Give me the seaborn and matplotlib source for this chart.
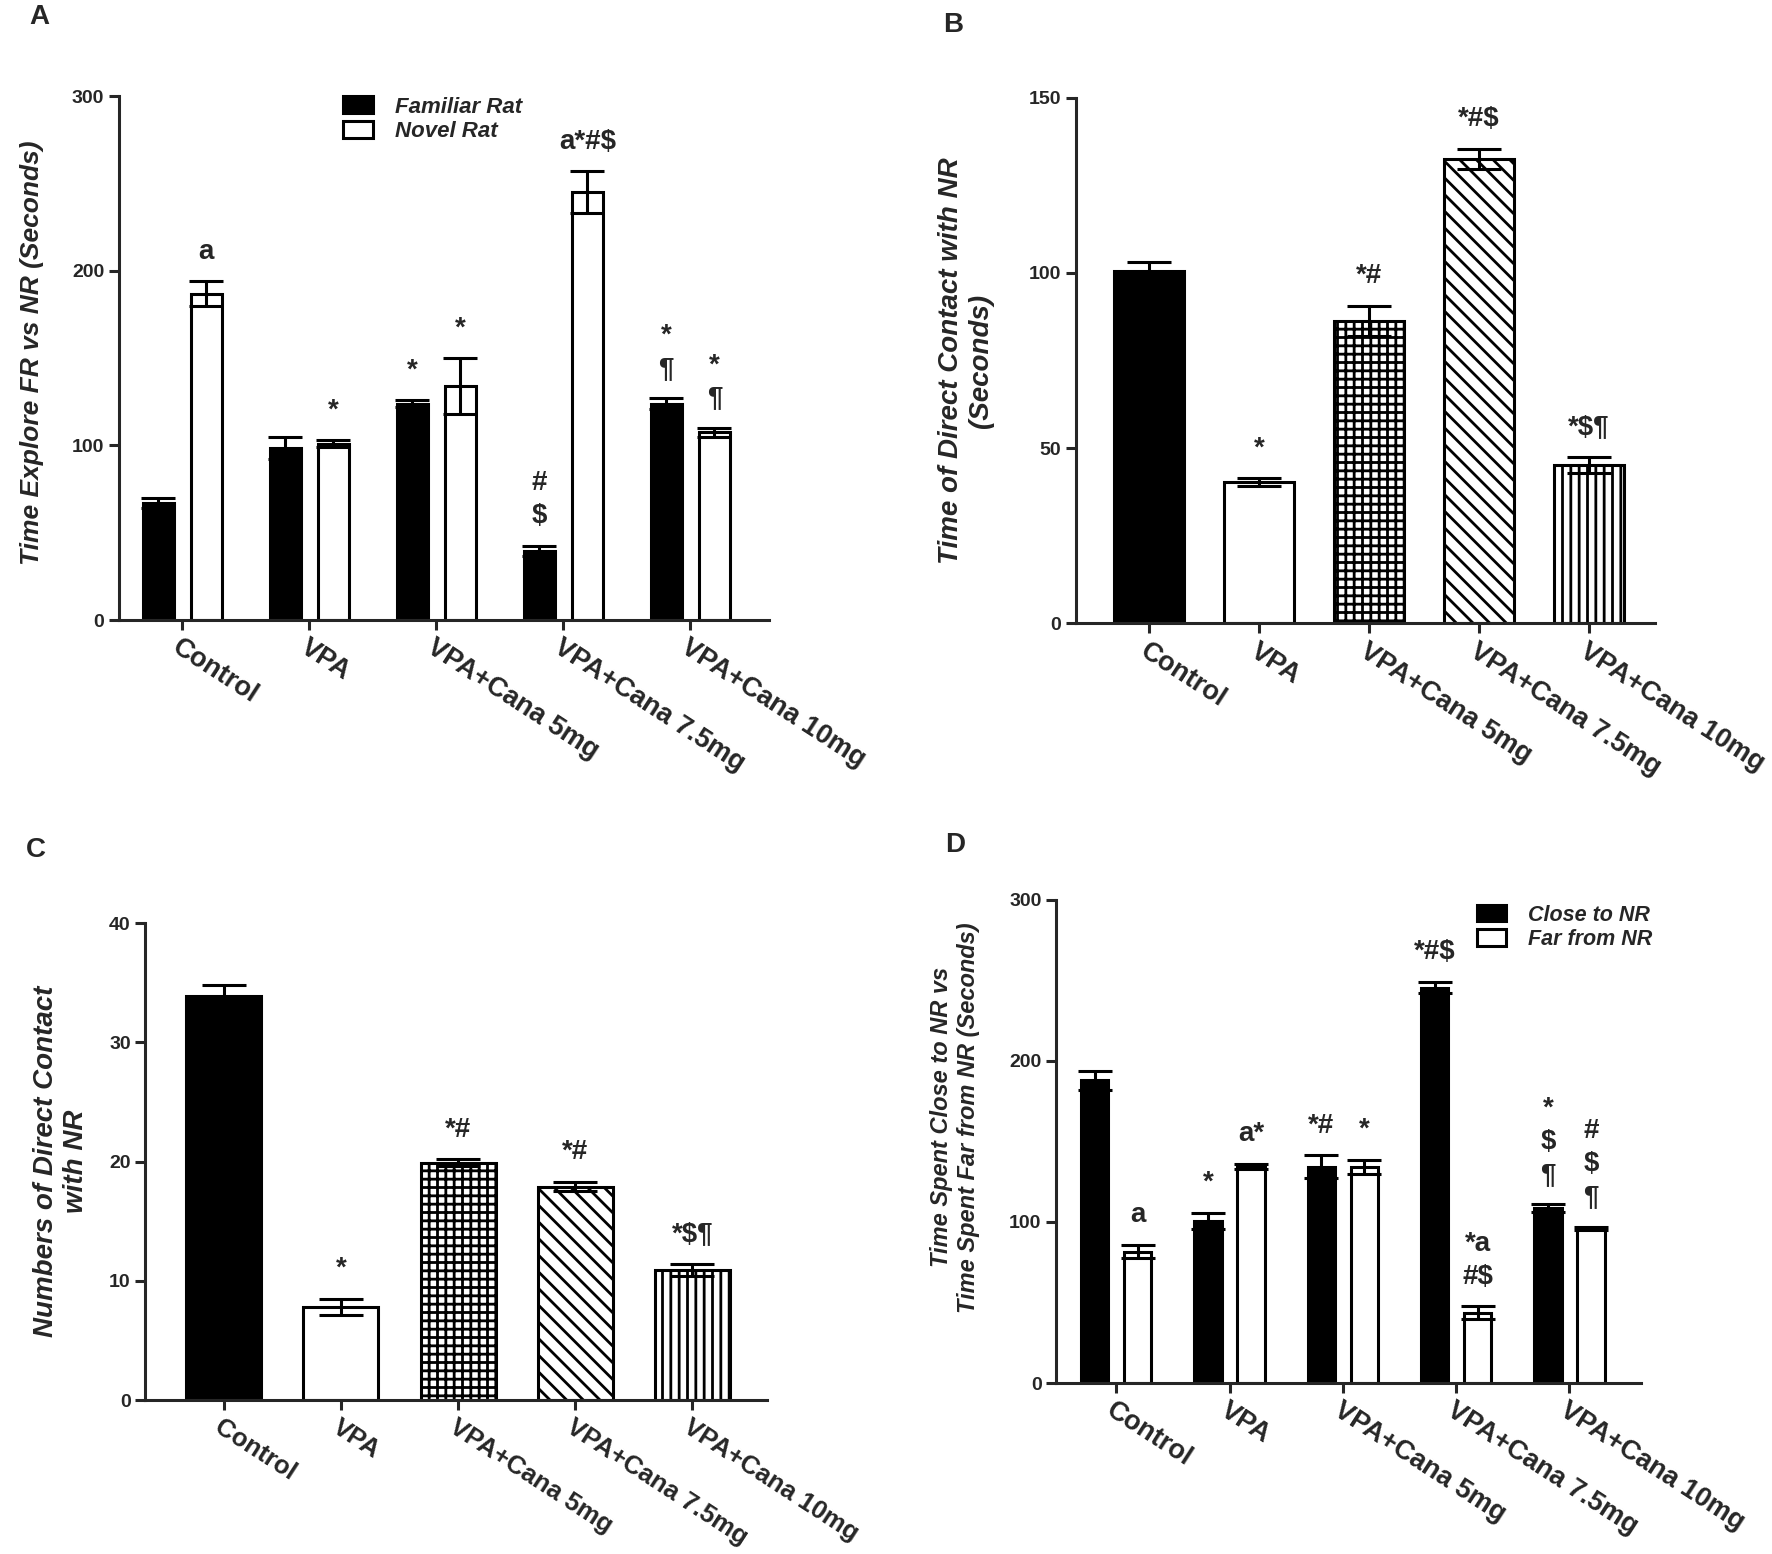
import numpy as np
import pandas as pd
import matplotlib
matplotlib.use('Agg')
import matplotlib.pyplot as plt
from matplotlib.patches import Patch
import seaborn as sns

# groups shared by all panels
groups = ['Control', 'VPA', 'VPA+Cana 5mg', 'VPA+Cana 7.5mg', 'VPA+Cana 10mg']

# Panel A - time exploring familiar vs novel rat
a_series = ['Familiar Rat', 'Novel Rat']
a_familiar = [67, 98.5, 124, 39.5, 124]
a_familiar_err = [3, 6.5, 2, 3, 3]
a_novel = [187, 101, 134, 245, 107.5]
a_novel_err = [7, 2, 16, 12, 2.5]
a_familiar_sig = ['', '', '*', '#\n$', '*\n¶']
a_novel_sig = ['a', '*', '*', 'a*#$', '*\n¶']

# Panel B - time of direct contact
b_values = [100.5, 40.3, 86.3, 132.6, 45.1]
b_err = [2.5, 1.2, 4.3, 2.8, 2.3]
b_sig = ['', '*', '*#', '*#$', '*$¶']

# Panel C - numbers of direct contact
c_values = [33.9, 7.8, 19.9, 17.9, 10.9]
c_err = [0.9, 0.7, 0.3, 0.4, 0.5]
c_sig = ['', '*', '*#', '*#', '*$¶']

# Panel D - time close to / far from NR
d_series = ['Close to NR', 'Far from NR']
d_close = [188, 100.7, 134.3, 245.5, 108.4]
d_close_err = [6, 5, 7, 3.5, 2.5]
d_far = [81.6, 134.6, 134.3, 43.7, 96.1]
d_far_err = [4, 1.5, 4.3, 4, 1]
d_close_sig = ['', '*', '*#', '*#$', '*\n$\n¶']
d_far_sig = ['a', 'a*', '*', '*a\n#$', '#\n$\n¶']

hatches = ['', '', '++', '\\\\', '||']
colors = ['black', 'white', 'white', 'white', 'white']

sns.set_style('ticks')
plt.rcParams['font.family'] = ['Liberation Sans', 'DejaVu Sans']
plt.rcParams['hatch.linewidth'] = 2.0
plt.rcParams['hatch.color'] = 'black'
LW = 2.2
NARROW = ['Liberation Sans Narrow', 'Liberation Sans', 'DejaVu Sans']


def sorted_bars(ax):
    bars = [p for p in ax.patches if p.get_height() > 0]
    return sorted(bars, key=lambda p: p.get_x())


def add_errors(ax, errs, sigs, capsize):
    bars = sorted_bars(ax)
    xs = [p.get_x() + p.get_width() / 2 for p in bars]
    tops = [p.get_height() for p in bars]
    ax.errorbar(xs, tops, yerr=errs, fmt='none', ecolor='black',
                elinewidth=LW, capsize=capsize, capthick=LW, zorder=5)
    for x, t, e, s in zip(xs, tops, errs, sigs):
        if s:
            ax.annotate(s, (x, t + e), xytext=(0, 12), textcoords='offset points',
                        ha='center', va='bottom', fontsize=20, fontweight='bold',
                        linespacing=1.35)


def style_axis(ax, ylim, yticks, xlim, ylabel, ylabel_x, ylabel_y, ylabel_size, xsize=19.5):
    sns.despine(ax=ax)
    ax.set_ylim(*ylim)
    ax.set_yticks(yticks)
    ax.set_xlim(*xlim)
    for s in ['left', 'bottom']:
        ax.spines[s].set_linewidth(LW)
    ax.tick_params(width=LW, length=7)
    ax.tick_params(axis='y', labelsize=14)
    for lab in ax.get_yticklabels():
        lab.set_fontweight('bold')
        lab.set_family(NARROW)
    ax.set_xticks(range(len(groups)))
    ax.set_xticklabels(groups, rotation=-33, ha='left', rotation_mode='anchor',
                       fontsize=xsize, fontweight='bold')
    ax.set_xlabel('')
    ax.set_ylabel(ylabel, fontsize=ylabel_size, fontweight='bold', style='italic')
    ax.yaxis.set_label_coords(ylabel_x, ylabel_y)


def grouped(ax, first, first_err, second, second_err, names, first_sig, second_sig, capsize):
    df = pd.DataFrame({'group': groups * 2,
                       'series': [names[0]] * 5 + [names[1]] * 5,
                       'value': first + second})
    sns.barplot(data=df, x='group', y='value', hue='series', order=groups,
                hue_order=names, palette={names[0]: 'black', names[1]: 'white'},
                edgecolor='black', linewidth=LW, width=0.76, gap=0.36,
                errorbar=None, legend=False, ax=ax)
    errs, sigs = [], []
    for i in range(5):
        errs += [first_err[i], second_err[i]]
        sigs += [first_sig[i], second_sig[i]]
    add_errors(ax, errs, sigs, capsize)


def single(ax, values, errs, sigs, capsize):
    sns.barplot(x=groups, y=values, hue=groups, palette=colors, legend=False,
                edgecolor='black', linewidth=LW, width=0.64, errorbar=None, ax=ax)
    for p, h in zip(sorted_bars(ax), hatches):
        p.set_hatch(h)
    add_errors(ax, errs, sigs, capsize)


def legend(ax, names, anchor, size):
    handles = [Patch(facecolor='black', edgecolor='black', linewidth=LW),
               Patch(facecolor='white', edgecolor='black', linewidth=LW)]
    ax.legend(handles, names, loc='upper left', bbox_to_anchor=anchor, frameon=False,
              prop={'weight': 'bold', 'style': 'italic', 'size': size},
              handlelength=1.35, handleheight=0.8, labelspacing=0.15,
              borderaxespad=0, borderpad=0, handletextpad=1.0)


fig = plt.figure(figsize=(17.72, 15.54), dpi=100)

ax_a = fig.add_axes([0.067, 0.601, 0.367, 0.337])
grouped(ax_a, a_familiar, a_familiar_err, a_novel, a_novel_err, a_series,
        a_familiar_sig, a_novel_sig, 12)
style_axis(ax_a, (0, 300), [0, 100, 200, 300], (-0.5, 4.62),
           'Time Explore FR vs NR (Seconds)', -0.115, 0.51, 19)
legend(ax_a, a_series, (0.345, 1.0), 16)

ax_b = fig.add_axes([0.607, 0.599, 0.327, 0.338])
single(ax_b, b_values, b_err, b_sig, 16)
style_axis(ax_b, (0, 150), [0, 50, 100, 150], (-0.67, 4.6),
           'Time of Direct Contact with NR\n(Seconds)', -0.14, 0.5, 20)

ax_c = fig.add_axes([0.082, 0.099, 0.351, 0.307])
single(ax_c, c_values, c_err, c_sig, 16)
style_axis(ax_c, (0, 40), [0, 10, 20, 30, 40], (-0.67, 4.64),
           'Numbers of Direct Contact\nwith NR', -0.09, 0.5, 20, xsize=18.5)

ax_d = fig.add_axes([0.596, 0.110, 0.33, 0.311])
grouped(ax_d, d_close, d_close_err, d_far, d_far_err, d_series,
        d_close_sig, d_far_sig, 12)
style_axis(ax_d, (0, 300), [0, 100, 200, 300], (-0.53, 4.63),
           'Time Spent Close to NR vs\nTime Spent Far from NR (Seconds)', -0.13, 0.55, 17)
legend(ax_d, d_series, (0.72, 0.99), 15.5)

for letter, x, y in [('A', 0.022, 0.989), ('B', 0.538, 0.984),
                     ('C', 0.020, 0.453), ('D', 0.539, 0.456)]:
    fig.text(x, y, letter, fontsize=20, fontweight='bold', ha='center', va='center')

fig.savefig('out.png', dpi=100)
